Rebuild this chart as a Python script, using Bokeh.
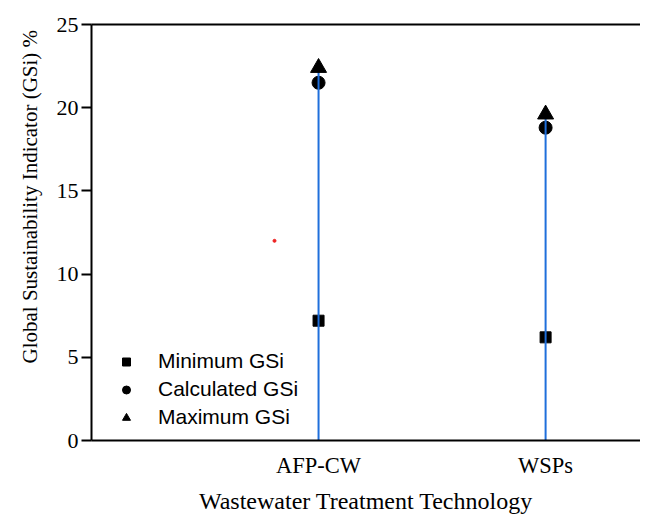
from bokeh.plotting import figure
from bokeh.models import (ColumnDataSource, FixedTicker, Legend, LegendItem, LinearAxis, Range1d, Title)
from bokeh.embed import file_html
from bokeh.resources import INLINE

# ---- data ----
technologies = ["AFP-CW", "WSPs"]
positions = [1, 2]
minimum_gsi = [7.2, 6.2]
calculated_gsi = [21.5, 18.8]
maximum_gsi = [22.4, 19.6]
baseline = [0, 0]
stray_x = [0.806]
stray_y = [12.0]
y_ticks = [0, 5, 10, 15, 20, 25]

src = ColumnDataSource(dict(x=positions, lo=minimum_gsi, calc=calculated_gsi,
                            hi=maximum_gsi, base=baseline))

SERIF = "Liberation Serif"
SANS = "Liberation Sans"

p = figure(width=640, height=516, output_backend="svg", toolbar_location=None,
           x_range=Range1d(0.0, 2.418), y_range=Range1d(0, 25),
           min_border_left=91, min_border_right=0, min_border_top=24,
           min_border_bottom=76)
p.outline_line_color = None
p.grid.visible = False
p.background_fill_color = "white"

sq = p.scatter("x", "lo", source=src, marker="square", size=11, color="black")
ci = p.scatter("x", "calc", source=src, marker="circle", size=13, color="black")
p.segment(x0="x", y0="base", x1="x", y1="hi", source=src, line_color="#1f6fdb", line_width=2)
tr = p.scatter("x", "hi", source=src, marker="triangle", size=16, color="black")
p.scatter(stray_x, stray_y, marker="circle", size=3, color="#ee2222")

# axes
xa = p.xaxis[0]
xa.ticker = FixedTicker(ticks=positions)
xa.major_label_overrides = {pos: lab for pos, lab in zip(positions, technologies)}
xa.major_tick_line_color = None
xa.minor_tick_line_color = None
xa.axis_line_width = 2
xa.axis_line_color = "black"
xa.major_label_text_font = SERIF
xa.major_label_text_font_size = "22.5px"
xa.major_label_text_color = "black"
xa.major_label_standoff = 6
xa.axis_label = "Wastewater Treatment Technology"
xa.axis_label_text_font = SERIF
xa.axis_label_text_font_size = "24px"
xa.axis_label_text_font_style = "normal"
xa.axis_label_text_color = "black"
xa.axis_label_standoff = 7

ya = p.yaxis[0]
ya.ticker = FixedTicker(ticks=y_ticks)
ya.minor_tick_line_color = None
ya.major_tick_in = 0
ya.major_tick_out = 10
ya.major_tick_line_width = 2
ya.axis_line_width = 2
ya.axis_line_color = "black"
ya.major_label_text_font = SERIF
ya.major_label_text_font_size = "22px"
ya.major_label_text_color = "black"
ya.major_label_standoff = 3

ytitle = Title(text="Global Sustainability Indicator (GSi) %", align="left", offset=77,
               standoff=20, vertical_align="top", text_font=SERIF, text_font_size="21px",
               text_font_style="normal", text_color="black")
p.add_layout(ytitle, "left")

top = LinearAxis(ticker=FixedTicker(ticks=[]), major_label_text_font_size="0px",
                 axis_line_width=2, axis_line_color="black",
                 major_tick_line_color=None, minor_tick_line_color=None)
p.add_layout(top, "above")

legend = Legend(items=[LegendItem(label="Minimum GSi", renderers=[sq]),
                       LegendItem(label="Calculated GSi", renderers=[ci]),
                       LegendItem(label="Maximum GSi", renderers=[tr])],
                location=(25, 11), border_line_color=None, background_fill_alpha=0,
                label_text_font=SANS, label_text_font_size="21px",
                label_text_color="black", glyph_width=20, glyph_height=21,
                label_height=21, spacing=4, label_standoff=22, padding=0, margin=0)
p.add_layout(legend, "center")

open("out.html", "w").write(file_html(p, INLINE))
